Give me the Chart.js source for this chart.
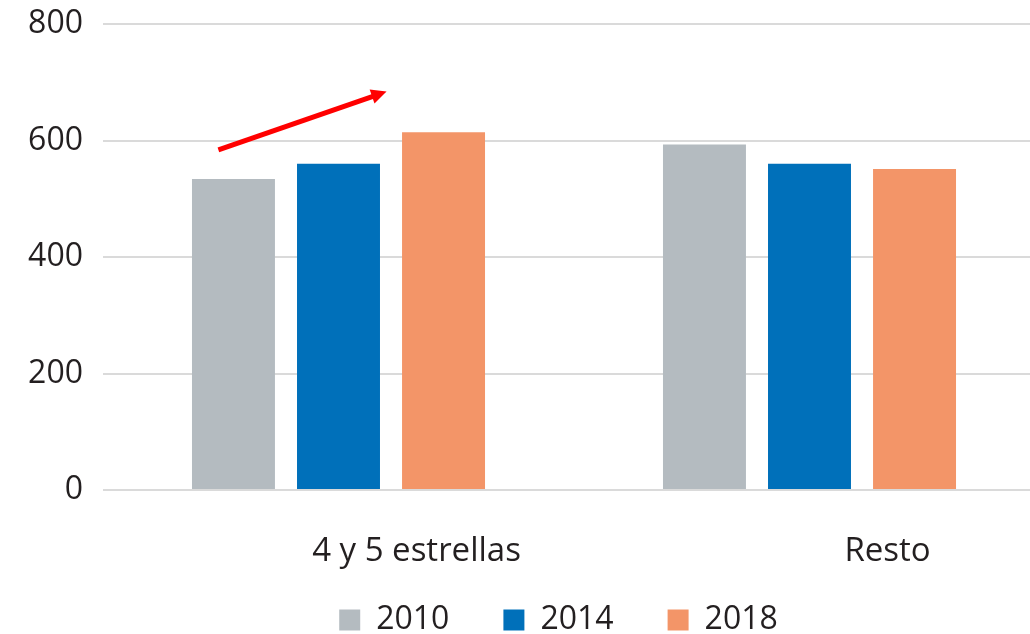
<!DOCTYPE html>
<html>
<head>
<meta charset="utf-8">
<script src="https://cdn.jsdelivr.net/npm/chart.js@4/dist/chart.umd.min.js"></script>
<style>
  html, body { margin: 0; padding: 0; background: #fff; overflow: hidden; }
</style>
</head>
<body>
<canvas id="chart" width="1030" height="634"></canvas>
<script>
// data
const categories = ["4 y 5 estrellas", "Resto"];
const years = ["2010", "2014", "2018"];
const values2010 = [534, 593];
const values2014 = [560, 560];
const values2018 = [614, 551];
const yTicks = [0, 200, 400, 600, 800];

// red arrow annotation, in (category index, value) units
const arrowFrom = [-0.255, 584];
const arrowTo = [0.102, 684];

const colors = ["#B4BBC0", "#0070BA", "#F39568"];
const textColor = "#231F20";
const fontFamily = "'Open Sans', 'DejaVu Sans', sans-serif";

// the original plot runs past the right edge (it was cropped), starts higher
// than chart.js leaves room for, and has the legend tucked under the labels
const tweakLayout = {
    id: "tweakLayout",
    afterLayout(chart) {
        const area = chart.chartArea;
        const xs = chart.scales.x, ys = chart.scales.y;
        area.right += 15;
        area.width += 15;
        xs.right += 15;
        xs.width += 15;
        xs.configure();

        area.top = 24;
        area.height = area.bottom - area.top;
        ys.top = 24;
        ys.height = ys.bottom - ys.top;
        ys.configure();

        chart.legend.top -= 20;
        chart.legend.bottom -= 20;
        chart.legend.left -= 8;
        chart.legend.right -= 8;
    }
};

const arrowPlugin = {
    id: "arrow",
    afterDatasetsDraw(chart) {
        const ctx = chart.ctx;
        const x = chart.scales.x, y = chart.scales.y;
        const x1 = x.getPixelForValue(arrowFrom[0]), y1 = y.getPixelForValue(arrowFrom[1]);
        const x2 = x.getPixelForValue(arrowTo[0]), y2 = y.getPixelForValue(arrowTo[1]);
        const ang = Math.atan2(y2 - y1, x2 - x1);
        const head = 17;
        ctx.save();
        ctx.strokeStyle = "#FF0000";
        ctx.fillStyle = "#FF0000";
        ctx.lineWidth = 5;
        ctx.beginPath();
        ctx.moveTo(x1, y1);
        ctx.lineTo(x2 - head * 0.8 * Math.cos(ang), y2 - head * 0.8 * Math.sin(ang));
        ctx.stroke();
        ctx.beginPath();
        ctx.moveTo(x2, y2);
        ctx.lineTo(x2 - head * Math.cos(ang - 0.45), y2 - head * Math.sin(ang - 0.45));
        ctx.lineTo(x2 - head * Math.cos(ang + 0.45), y2 - head * Math.sin(ang + 0.45));
        ctx.closePath();
        ctx.fill();
        ctx.restore();
    }
};

const seriesValues = [values2010, values2014, values2018];

new Chart(document.getElementById("chart"), {
    type: "bar",
    data: {
        labels: categories,
        datasets: years.map((yr, i) => ({
            label: yr,
            data: seriesValues[i],
            backgroundColor: colors[i],
            borderWidth: 0,
            categoryPercentage: 0.669,
            barPercentage: 0.79
        }))
    },
    options: {
        responsive: false,
        animation: false,
        layout: { padding: { top: 10, left: 0, right: 0, bottom: -32 } },
        plugins: {
            legend: {
                position: "bottom",
                fullSize: false,
                labels: {
                    color: textColor,
                    font: { family: fontFamily, size: 32 },
                    boxWidth: 21,
                    boxHeight: 21,
                    padding: 54
                }
            },
            tooltip: { enabled: false }
        },
        scales: {
            x: {
                grid: { display: false },
                border: { display: false },
                ticks: {
                    color: textColor,
                    font: { family: fontFamily, size: 33 },
                    padding: 34,
                    labelOffset: 78
                },
                afterFit(scale) { scale.height = 80; }
            },
            y: {
                min: 0,
                max: 800,
                afterBuildTicks(scale) { scale.ticks = yTicks.map(v => ({ value: v })); },
                grid: { color: "#DADADA", lineWidth: 2, drawTicks: false },
                border: { display: false },
                ticks: {
                    color: textColor,
                    font: { family: fontFamily, size: 32 },
                    padding: 20
                },
                afterFit(scale) { scale.width = 103; }
            }
        }
    },
    plugins: [tweakLayout, arrowPlugin]
});
</script>
</body>
</html>
